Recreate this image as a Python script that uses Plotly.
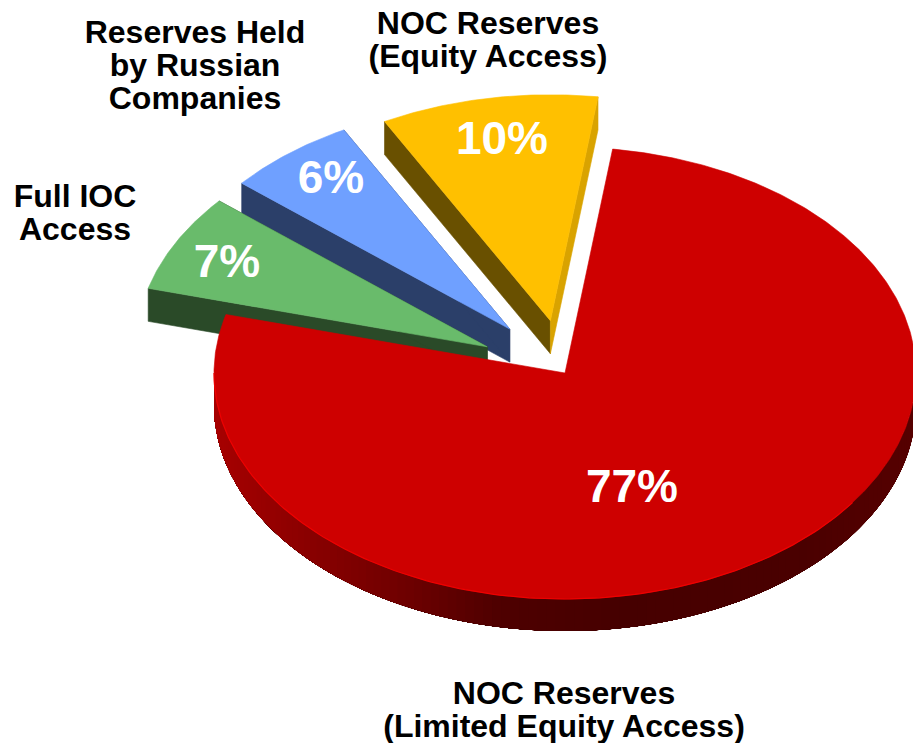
import math
import plotly.graph_objects as go

# Reserve shares, clockwise from the large slice
categories = ["NOC Reserves (Limited Equity Access)", "Full IOC Access",
              "Reserves Held by Russian Companies", "NOC Reserves (Equity Access)"]
shares = [77, 7, 6, 10]
explode = [0.0, 0.25, 0.25, 0.235]

# Category captions, one entry per text line
caption_lines = ["NOC Reserves", "(Equity Access)",
                 "Reserves Held", "by Russian", "Companies",
                 "Full IOC", "Access",
                 "NOC Reserves", "(Limited Equity Access)"]
caption_x = [488, 488, 195, 195, 195, 75, 75, 564, 564]
caption_y = [26, 59, 35, 68, 101, 199, 232, 696, 729]

# Where each percentage sits, in the same order as shares
pct_x = [632, 227, 331, 502]
pct_y = [490, 265, 181, 142]

# Slice styling: top face, wall along the start edge, wall along the end edge
face_colors = ["#CE0000", "#69BB6B", "#6FA0FF", "#FFC000"]
start_wall = ["#6A0000", "#2A4A28", "#2B3F69", "#695000"]
end_wall = ["#6A0000", "#2A4A28", "#2B3F69", "#D9A300"]

# Projection of the tilted disc onto the page
CX, CY = 565, 373
RX, RY = 351, 226
DEPTH = 33
START_DEG = 7.8
FONT = "Liberation Sans"


def project(deg, r=1.0, ox=0.0, oy=0.0):
    """Map a clockwise-from-top angle on the disc to page coordinates."""
    a = math.radians(deg)
    return CX + ox + r * RX * math.sin(a), CY + oy - r * RY * math.cos(a)


def polygon(xs, ys, color, edge=0.6):
    return go.Scatter(x=xs + xs[:1], y=ys + ys[:1], mode="lines", fill="toself",
                      fillcolor=color, line=dict(color=color, width=edge),
                      hoverinfo="skip", showlegend=False)


def hex_mix(c0, c1, t):
    a = [int(c0[i:i + 2], 16) for i in (1, 3, 5)]
    b = [int(c1[i:i + 2], 16) for i in (1, 3, 5)]
    return "#%02x%02x%02x" % tuple(round(p + (q - p) * t) for p, q in zip(a, b))


def rim_color(x):
    """Shade of the outer red wall, which darkens from left to lower right."""
    stops = [(212, "#A80000"), (300, "#8C0000"), (400, "#700000"), (500, "#4E0000"),
             (620, "#460000"), (800, "#4A0000"), (913, "#560000")]
    for (x0, c0), (x1, c1) in zip(stops, stops[1:]):
        if x <= x1:
            return hex_mix(c0, c1, max(0.0, (x - x0) / (x1 - x0)))
    return stops[-1][1]


# Angular span of every slice
spans = []
angle = START_DEG
for share in shares:
    sweep = share * 3.6
    spans.append((angle, angle + sweep))
    angle += sweep

fig = go.Figure()

# Paint back to front: yellow, blue, green, then red on top
for i in (3, 2, 1, 0):
    t0, t1 = spans[i]
    mid = (t0 + t1) / 2
    ox = explode[i] * RX * math.sin(math.radians(mid))
    oy = -explode[i] * RY * math.cos(math.radians(mid))
    ax, ay = CX + ox, CY + oy

    if i:
        sx, sy = project(t0, 1, ox, oy)
        ex, ey = project(t1, 1, ox, oy)
        fig.add_trace(polygon([sx, ax, ax, sx], [sy, ay, ay + DEPTH, sy + DEPTH], start_wall[i]))
        fig.add_trace(polygon([ex, ax, ax, ex], [ey, ay, ay + DEPTH, ey + DEPTH], end_wall[i]))
    else:
        # Outer wall of the large slice: the whole remaining sweep is repainted at
        # each step, so neighbouring shades never leave a seam between them
        steps = 120
        for k in range(steps):
            a0 = 90 + 180 * k / steps
            arc_wall = [project(a0 + (270 - a0) * m / 60) for m in range(61)]
            xs = [p[0] for p in arc_wall]
            top = [p[1] for p in arc_wall]
            bottom = [y + DEPTH - 1 for y in top]
            x_mid = project(a0 + 0.75)[0]
            fig.add_trace(polygon(xs + xs[::-1], top + bottom[::-1], rim_color(x_mid), edge=0))

    n = max(6, int(t1 - t0) * 2)
    arc = [project(t0 + (t1 - t0) * k / n, 1, ox, oy) for k in range(n + 1)]
    fig.add_trace(polygon([ax] + [p[0] for p in arc], [ay] + [p[1] for p in arc], face_colors[i]))

# Bright lip along the lower edge of the large slice
lip = [project(125 + (270 - 125) * k / 150) for k in range(151)]
fig.add_trace(go.Scatter(x=[p[0] for p in lip], y=[p[1] for p in lip], mode="lines",
                         line=dict(color="#EE0000", width=1.2),
                         hoverinfo="skip", showlegend=False))

# Percentages on the slices
fig.add_trace(go.Scatter(x=pct_x, y=pct_y, mode="text", text=[f"{s}%" for s in shares],
                         textposition="middle center",
                         textfont=dict(family=FONT, size=46, color="#FFFFFF", weight=700),
                         hoverinfo="skip", showlegend=False))

# Category captions
fig.add_trace(go.Scatter(x=caption_x, y=caption_y, mode="text", text=caption_lines,
                         textposition="middle center",
                         textfont=dict(family=FONT, size=32, color="#000000", weight=700),
                         hoverinfo="skip", showlegend=False))

fig.update_layout(width=913, height=743, margin=dict(l=0, r=0, t=0, b=0),
                  paper_bgcolor="#FFFFFF", plot_bgcolor="#FFFFFF", showlegend=False,
                  xaxis=dict(range=[0, 913], visible=False, fixedrange=True),
                  yaxis=dict(range=[743, 0], visible=False, fixedrange=True))

fig.write_html("out.html", config={"displayModeBar": False})
